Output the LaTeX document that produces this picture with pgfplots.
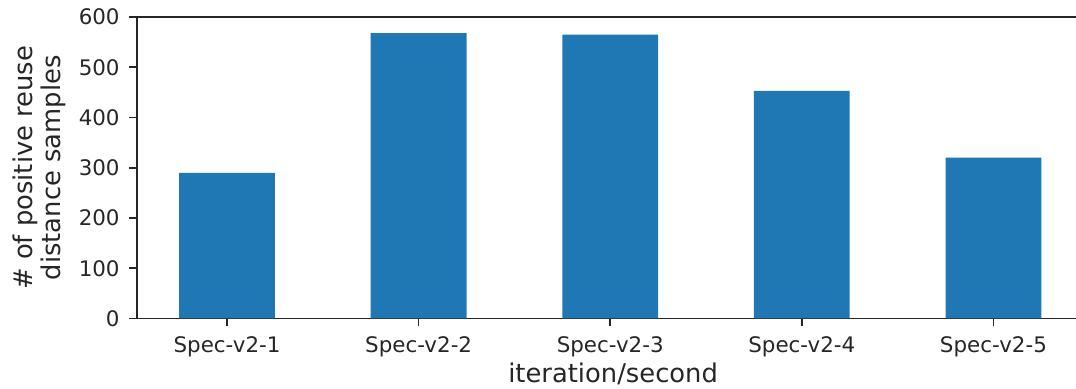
\documentclass[border=0pt]{standalone}
\usepackage{fontspec}
\setmainfont{DejaVu Sans}
\usepackage{pgfplots}
\pgfplotsset{compat=1.18}
\definecolor{barblue}{HTML}{1F77B4}
\begin{document}
\begin{tikzpicture}
\useasboundingbox (-68.5pt,-35.25pt) rectangle (469.5pt,159.25pt);
\begin{axis}[
  at={(0,0)}, anchor=south west, scale only axis,
  width=476.1pt, height=150.75pt,
  xmin=-0.47, xmax=4.5, ymin=0, ymax=600,
  axis line style={line width=0.8pt, black!85},
  xtick={0,1,2,3,4},
  xticklabels={Spec-v2-1,Spec-v2-2,Spec-v2-3,Spec-v2-4,Spec-v2-5},
  ytick={0,100,200,300,400,500,600},
  xtick pos=left, ytick pos=left,
  tick align=outside, major tick length=4pt,
  tick style={line width=0.8pt, black!85},
  /pgf/number format/assume math mode=true,
  tick label style={font=\fontsize{10.7}{12.8}\selectfont, text=black!85},
  xticklabel style={anchor=base, yshift=-13.25pt},
  yticklabel style={anchor=east, inner sep=0pt, xshift=-4.5pt},
  xlabel={iteration/second},
  ylabel={\# of positive reuse\\distance samples},
  every axis x label/.style={at={(axis description cs:0.5,0)}, anchor=base, yshift=-32.25pt, font=\fontsize{12.9}{14}\selectfont, text=black!85},
  every axis y label/.style={at={(axis description cs:-0.1029,0.5)}, anchor=center, rotate=90, align=center, font=\fontsize{12.9}{14}\selectfont, text=black!85},
  ybar, bar width=0.5,
]
\addplot[fill=barblue, draw=none, bar shift=0pt] coordinates {
  (0,290) (1,568) (2,565) (3,453) (4,320)
};
\end{axis}
\end{tikzpicture}
\end{document}
